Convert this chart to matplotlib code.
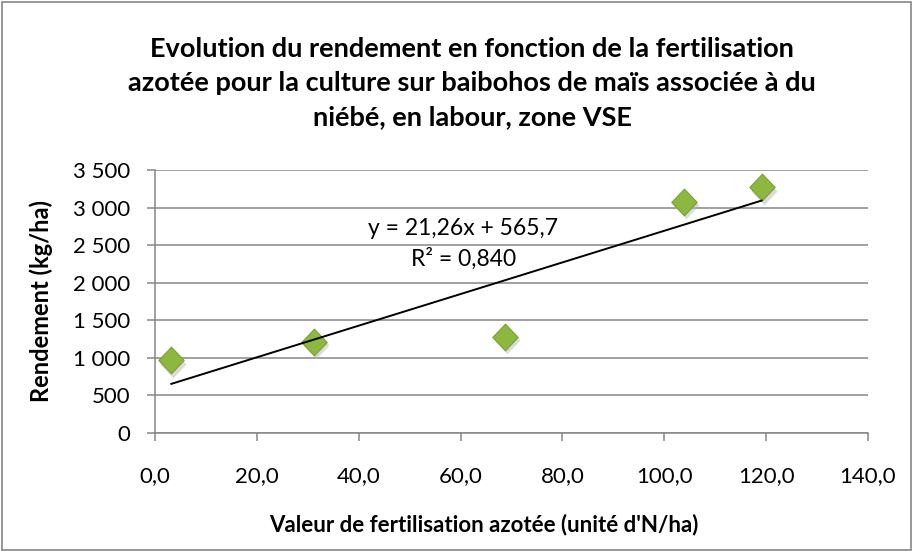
import numpy as np
import matplotlib
matplotlib.use("Agg")
import matplotlib.pyplot as plt
from matplotlib.patches import Rectangle
from matplotlib.path import Path as MPath

# data
azote = [3.2, 31.3, 68.7, 103.9, 119.1]
rendement = [968, 1211, 1277, 3073, 3267]
x_ticks = [0, 20, 40, 60, 80, 100, 120, 140]
y_ticks = [0, 500, 1000, 1500, 2000, 2500, 3000, 3500]
eq_label = "y = 21,26x + 565,7\nR² = 0,840"

title = ("Evolution du rendement en fonction de la fertilisation\n"
         "azotée pour la culture sur baibohos de maïs associée à du\n"
         "niébé, en labour, zone VSE")

plt.rcParams["font.family"] = ["Lato", "DejaVu Sans"]

fig = plt.figure(figsize=(9.15, 5.51), dpi=100)
ax = fig.add_axes([0.1694, 0.2142, 0.7792, 0.4773])

# diamond marker (Excel style)
diamond = MPath([(0, 1), (0.95, 0), (0, -1), (-0.95, 0), (0, 1)],
                [MPath.MOVETO, MPath.LINETO, MPath.LINETO, MPath.LINETO, MPath.CLOSEPOLY])

# soft shadow then marker
ax.scatter(np.array(azote) + 0.4, np.array(rendement) - 45, marker=diamond, s=390,
           color="#b0b0b0", alpha=0.45, linewidths=0, zorder=2)
ax.scatter(azote, rendement, marker=diamond, s=370, color="#8db840",
           edgecolors="#79a234", linewidths=0.8, zorder=3)

# linear trend line
a, b = np.polyfit(azote, rendement, 1)
xs = np.array([min(azote), max(azote)])
ax.plot(xs, a * xs + b, color="black", lw=1.4, zorder=4)
ax.text(60.5, 2515, eq_label, ha="center", va="center", fontsize=16.5,
        linespacing=1.45, zorder=5)

ax.set_xlim(0, 140)
ax.set_ylim(0, 3500)
ax.set_xticks(x_ticks)
ax.set_yticks(y_ticks)
ax.set_xticklabels([f"{v:.1f}".replace(".", ",") for v in x_ticks], fontsize=16)
ax.set_yticklabels([f"{v:,}".replace(",", " ") for v in y_ticks], fontsize=16)
ax.yaxis.grid(True, color="#868686", lw=1.1)
ax.set_axisbelow(True)
for s in ["top", "right"]:
    ax.spines[s].set_visible(False)
for s in ["left", "bottom"]:
    ax.spines[s].set_color("#868686")
    ax.spines[s].set_linewidth(1.1)
ax.tick_params(axis="both", color="#868686", length=6, width=1.1)
ax.tick_params(axis="y", pad=12)
ax.tick_params(axis="x", pad=18)

ax.set_xlabel("Valeur de fertilisation azotée (unité d'N/ha)", fontsize=16,
              fontweight="bold", labelpad=22)
ax.xaxis.set_label_coords(0.461, -0.305)
ax.set_ylabel("Rendement (kg/ha)", fontsize=17, fontweight="bold", labelpad=14)

fig.text(0.516, 0.849, title, ha="center", va="center", fontsize=19.5,
         fontweight="bold", linespacing=1.5)

fig.patches.append(Rectangle((0.002, 0.002), 0.994, 0.994, transform=fig.transFigure,
                             fill=False, edgecolor="#868686", lw=1.2))

fig.savefig("out.png", dpi=100)
